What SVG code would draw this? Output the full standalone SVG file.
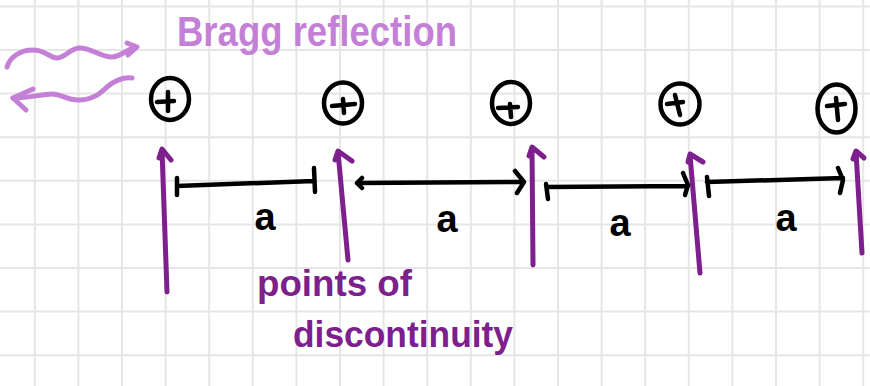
<svg xmlns="http://www.w3.org/2000/svg" width="870" height="386" viewBox="0 0 870 386">
<defs>
<style>
.grid{stroke:#e6e6e6;stroke-width:2;fill:none}
.ion{fill:none;stroke:#000;stroke-width:4.5;stroke-linecap:round;stroke-linejoin:round}
.dim{fill:none;stroke:#000;stroke-width:4.5;stroke-linecap:round;stroke-linejoin:round}
.disc{fill:none;stroke:#7d1f8c;stroke-width:5;stroke-linecap:round;stroke-linejoin:round}
.wave{fill:none;stroke:#c480d6;stroke-width:5;stroke-linecap:round;stroke-linejoin:round}
.lbl{font-family:"Liberation Sans",Arial,sans-serif;font-weight:bold;fill:#000;font-size:38px;text-anchor:middle}
.pl{font-family:"Liberation Sans",Arial,sans-serif;font-weight:bold;fill:#7d1f8c;font-size:37px}
.bl{font-family:"Liberation Sans",Arial,sans-serif;font-weight:bold;fill:#c480d6;font-size:43px}
</style>
</defs>
<rect width="870" height="386" fill="#fff"/>
<path class="grid" d="M34.8,0V386M78.4,0V386M122,0V386M165.6,0V386M209.2,0V386M252.8,0V386M296.4,0V386M340,0V386M383.6,0V386M427.2,0V386M470.8,0V386M514.4,0V386M558,0V386M601.6,0V386M645.2,0V386M688.8,0V386M732.4,0V386M776,0V386M819.6,0V386M863.2,0V386M0,6.4H870M0,50H870M0,93.6H870M0,137.2H870M0,180.8H870M0,224.4H870M0,268H870M0,311.6H870M0,355.2H870"/>

<g id="ion1"><ellipse class="ion" cx="170" cy="99" rx="19" ry="21"/><path class="ion" d="M157,102L174,101M168,92L168,111"/></g>
<g id="ion2"><ellipse class="ion" cx="343" cy="103" rx="19" ry="20.5"/><path class="ion" d="M332,106L355,104M343,99L344,113"/></g>
<g id="ion3"><ellipse class="ion" cx="511" cy="103" rx="19" ry="21"/><path class="ion" d="M498,108L518,107M510,104L511,117"/></g>
<g id="ion4"><ellipse class="ion" cx="680" cy="104" rx="19.5" ry="20.5"/><path class="ion" d="M667,104L683,102M675,95L680,115"/></g>
<g id="ion5"><ellipse class="ion" cx="836.5" cy="108.5" rx="19" ry="24"/><path class="ion" d="M827,106L845,104M836,98L838,120"/></g>

<g id="connectors">
<g id="bragg-arrows">
<path class="wave" d="M7,67C10,57 20,50 33,50C45,50 50,58 57,58C65,58 70,48 80,48C92,48 100,57 112,57C120,57 126,50 135,47"/>
<path class="wave" d="M127,43L137,47L128,55"/>
<path class="wave" d="M132,78C122,77 113,82 107,87C100,93 95,99 80,100C68,101 62,94 52,94C42,94 30,98 13,98"/>
<path class="wave" d="M33,89L13,98L26,110"/>
</g>
<g id="discontinuities">
<path class="disc" d="M167,292L162,150M159,158L162,149L171,160"/>
<path class="disc" d="M348,260L338,152M335,160L338,151L352,161"/>
<path class="disc" d="M533,265L532,148M529,156L532,147L544,157"/>
<path class="disc" d="M700,273L690,155M688,162L690,154L703,162"/>
<path class="disc" d="M862,253L856,152M853,159L856,151L864,158"/>
</g>
<g id="spacings">
<path class="dim" d="M177,186L314,181M177,178L177,195M314,168L315,192"/>
<path class="dim" d="M357,183L524,182M362,178L357,183L362,188M515,171L524,182L517,193"/>
<path class="dim" d="M547,187L688,186M546,184L548,199M683,173L688,185L685,195"/>
<path class="dim" d="M707,182L843,178M707,177L709,196M838,168L843,180L840,193"/>
</g>
</g>

<g id="labels">
<text class="lbl" x="265" y="230">a</text>
<text class="lbl" x="447" y="232">a</text>
<text class="lbl" x="620" y="236">a</text>
<text class="lbl" x="786" y="231">a</text>
<text class="bl" x="177" y="46" textLength="280" lengthAdjust="spacingAndGlyphs">Bragg reflection</text>
<text class="pl" x="257" y="296" textLength="155" lengthAdjust="spacingAndGlyphs">points of</text>
<text class="pl" x="293" y="347" textLength="220" lengthAdjust="spacingAndGlyphs">discontinuity</text>
</g>
</svg>
